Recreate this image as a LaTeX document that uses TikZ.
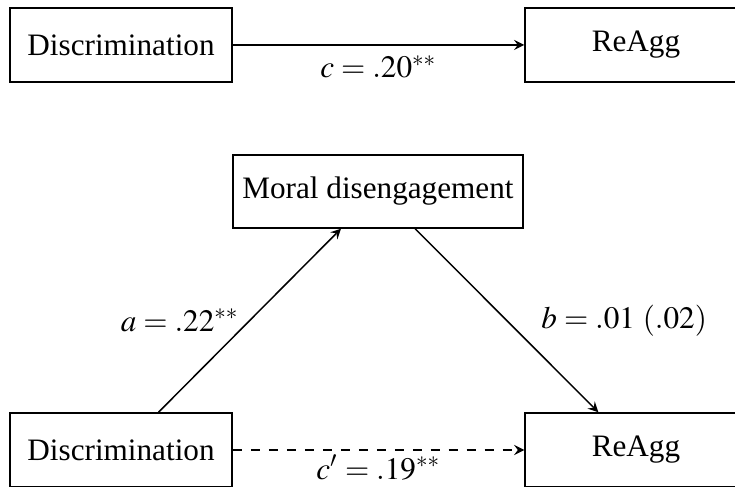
\documentclass[tikz,border=0pt]{standalone}
\usepackage{mathptmx}
\usepackage{fontspec}
\setmainfont{Liberation Serif}
\usepackage{amsmath}
\usepackage{tikz}
\usepackage{xcolor}

\begin{document}
\begin{tikzpicture}[box/.style={draw, rectangle, minimum width=2.6cm, minimum height=0.867cm, inner sep=2pt},
                    every node/.style={font=\fontsize{10.4}{12.5}\selectfont},
                    >=stealth, line width=0.5pt, scale=1]
            \useasboundingbox (0,0) rectangle (8.611,-5.694);
            \clip (0,0) rectangle (8.611,-5.694);

            % total effect
            \node (X1) at (1.418,-0.527) [box] {Discrimination};
            \node (Y1) at (7.451,-0.527) [box] {ReAgg};

            \draw[->] (X1) -- (Y1) node[midway, below] {$c = .20^{**}$};

            % mediation
            \node (M) at (4.428,-2.243) [box, minimum width=3.4cm, minimum height=0.855cm] {Moral disengagement};
            \node (X2) at (1.418,-5.272) [box] {Discrimination};
            \node (Y2) at (7.451,-5.272) [box] {ReAgg};

            \draw[->] (X2) -- (M) node[midway, left] {$a = .22^{**}$};
            \draw[->] (M) -- (Y2) node[midway, right=8pt] {$b = .01\ (.02)$};
            \draw[->, dashed] (X2) -- (Y2) node[midway, below, inner sep=1.5pt] {$c' = .19^{**}$};
        \end{tikzpicture}
\end{document}
